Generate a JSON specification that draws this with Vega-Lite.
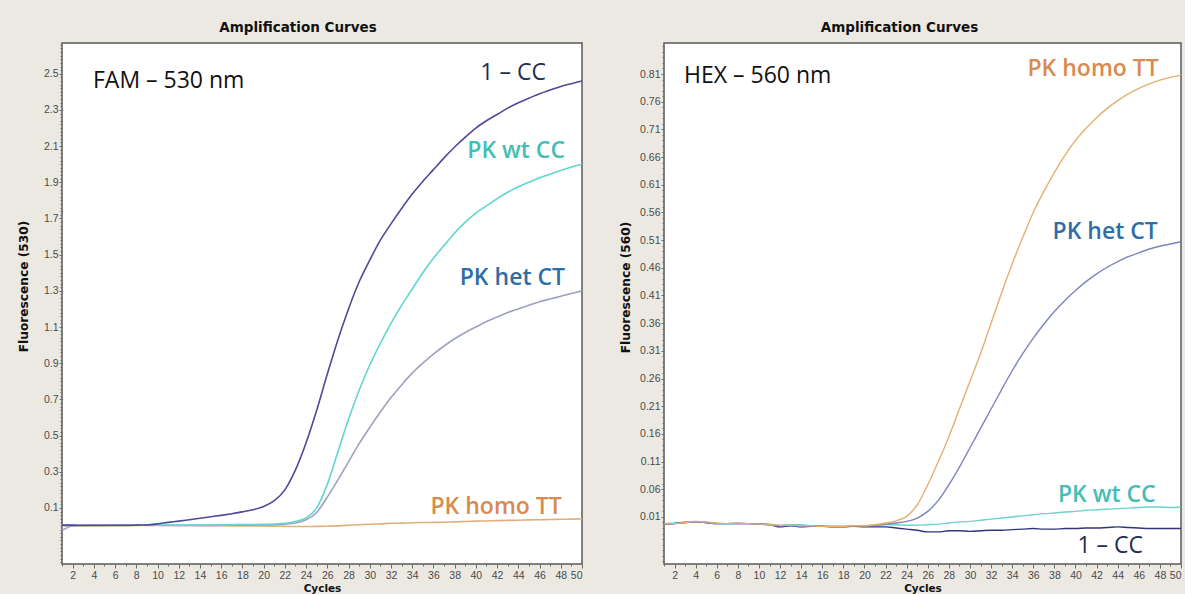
{
  "$schema": "https://vega.github.io/schema/vega-lite/v6.json",
  "background": "#ECE9E2",
  "padding": {"left": 16, "top": 19, "right": 0, "bottom": 0},
  "config": {
    "view": {"stroke": "#5a5a5a", "strokeWidth": 1.5, "fill": "#ffffff"},
    "axis": {"grid": false, "domain": false, "labelFont": "Liberation Sans", "labelFontSize": 10.5, "labelColor": "#4a4a4a", "tickColor": "#6a6a6a", "titleFont": "DejaVu Sans", "titleFontWeight": "bold", "titleFontSize": 10.5, "titleColor": "#111111"},
    "title": {"font": "DejaVu Sans", "fontSize": 13.5, "fontWeight": "bold", "color": "#111111", "anchor": "middle", "offset": 9}
  },
  "datasets": {
    "fam": [
      {"cycle": 1, "CC": 0.005, "wt": 0.003, "het": -0.025, "homo": 0.0},
      {"cycle": 2, "CC": 0.005, "wt": 0.004, "het": 0.0, "homo": 0.0},
      {"cycle": 3, "CC": 0.004, "wt": 0.004, "het": 0.002, "homo": 0.001},
      {"cycle": 4, "CC": 0.004, "wt": 0.004, "het": 0.003, "homo": 0.001},
      {"cycle": 5, "CC": 0.004, "wt": 0.004, "het": 0.003, "homo": 0.001},
      {"cycle": 6, "CC": 0.004, "wt": 0.004, "het": 0.003, "homo": 0.002},
      {"cycle": 7, "CC": 0.004, "wt": 0.005, "het": 0.003, "homo": 0.002},
      {"cycle": 8, "CC": 0.005, "wt": 0.006, "het": 0.004, "homo": 0.003},
      {"cycle": 9, "CC": 0.006, "wt": 0.006, "het": 0.004, "homo": 0.003},
      {"cycle": 10, "CC": 0.012, "wt": 0.005, "het": 0.004, "homo": 0.003},
      {"cycle": 11, "CC": 0.02, "wt": 0.005, "het": 0.003, "homo": 0.003},
      {"cycle": 12, "CC": 0.027, "wt": 0.005, "het": 0.003, "homo": 0.003},
      {"cycle": 13, "CC": 0.035, "wt": 0.005, "het": 0.003, "homo": 0.003},
      {"cycle": 14, "CC": 0.043, "wt": 0.005, "het": 0.003, "homo": 0.002},
      {"cycle": 15, "CC": 0.051, "wt": 0.006, "het": 0.003, "homo": 0.002},
      {"cycle": 16, "CC": 0.059, "wt": 0.006, "het": 0.004, "homo": 0.002},
      {"cycle": 17, "CC": 0.068, "wt": 0.007, "het": 0.004, "homo": 0.001},
      {"cycle": 18, "CC": 0.078, "wt": 0.008, "het": 0.004, "homo": 0.001},
      {"cycle": 19, "CC": 0.09, "wt": 0.008, "het": 0.005, "homo": 0.0},
      {"cycle": 20, "CC": 0.108, "wt": 0.009, "het": 0.006, "homo": 0.0},
      {"cycle": 21, "CC": 0.14, "wt": 0.011, "het": 0.007, "homo": -0.001},
      {"cycle": 22, "CC": 0.2, "wt": 0.015, "het": 0.01, "homo": -0.002},
      {"cycle": 23, "CC": 0.31, "wt": 0.025, "het": 0.017, "homo": -0.003},
      {"cycle": 24, "CC": 0.46, "wt": 0.045, "het": 0.035, "homo": -0.003},
      {"cycle": 25, "CC": 0.64, "wt": 0.1, "het": 0.075, "homo": -0.002},
      {"cycle": 26, "CC": 0.84, "wt": 0.23, "het": 0.16, "homo": -0.001},
      {"cycle": 27, "CC": 1.03, "wt": 0.41, "het": 0.255, "homo": 0.001},
      {"cycle": 28, "CC": 1.2, "wt": 0.59, "het": 0.355, "homo": 0.004},
      {"cycle": 29, "CC": 1.35, "wt": 0.75, "het": 0.455, "homo": 0.007},
      {"cycle": 30, "CC": 1.47, "wt": 0.89, "het": 0.545, "homo": 0.01},
      {"cycle": 31, "CC": 1.58, "wt": 1.01, "het": 0.63, "homo": 0.012},
      {"cycle": 32, "CC": 1.67, "wt": 1.12, "het": 0.71, "homo": 0.015},
      {"cycle": 33, "CC": 1.755, "wt": 1.22, "het": 0.78, "homo": 0.016},
      {"cycle": 34, "CC": 1.835, "wt": 1.31, "het": 0.845, "homo": 0.018},
      {"cycle": 35, "CC": 1.905, "wt": 1.4, "het": 0.9, "homo": 0.019},
      {"cycle": 36, "CC": 1.97, "wt": 1.48, "het": 0.95, "homo": 0.02},
      {"cycle": 37, "CC": 2.035, "wt": 1.55, "het": 0.995, "homo": 0.021},
      {"cycle": 38, "CC": 2.095, "wt": 1.62, "het": 1.035, "homo": 0.023},
      {"cycle": 39, "CC": 2.15, "wt": 1.68, "het": 1.07, "homo": 0.025},
      {"cycle": 40, "CC": 2.2, "wt": 1.73, "het": 1.1, "homo": 0.027},
      {"cycle": 41, "CC": 2.24, "wt": 1.77, "het": 1.13, "homo": 0.028},
      {"cycle": 42, "CC": 2.275, "wt": 1.81, "het": 1.155, "homo": 0.03},
      {"cycle": 43, "CC": 2.31, "wt": 1.845, "het": 1.18, "homo": 0.031},
      {"cycle": 44, "CC": 2.34, "wt": 1.875, "het": 1.2, "homo": 0.032},
      {"cycle": 45, "CC": 2.365, "wt": 1.9, "het": 1.22, "homo": 0.034},
      {"cycle": 46, "CC": 2.39, "wt": 1.925, "het": 1.24, "homo": 0.035},
      {"cycle": 47, "CC": 2.41, "wt": 1.945, "het": 1.255, "homo": 0.036},
      {"cycle": 48, "CC": 2.43, "wt": 1.965, "het": 1.27, "homo": 0.037},
      {"cycle": 49, "CC": 2.445, "wt": 1.985, "het": 1.285, "homo": 0.038},
      {"cycle": 50, "CC": 2.46, "wt": 2.0, "het": 1.3, "homo": 0.04}
    ],
    "hex": [
      {"cycle": 1, "CC": -0.003, "wt": -0.002, "het": -0.003, "homo": -0.002},
      {"cycle": 2, "CC": -0.002, "wt": -0.001, "het": -0.002, "homo": -0.002},
      {"cycle": 3, "CC": 0.0, "wt": 0.001, "het": 0.0, "homo": 0.0},
      {"cycle": 4, "CC": 0.001, "wt": 0.002, "het": 0.001, "homo": 0.002},
      {"cycle": 5, "CC": 0.0, "wt": 0.0, "het": 0.0, "homo": 0.001},
      {"cycle": 6, "CC": -0.002, "wt": -0.002, "het": -0.002, "homo": -0.001},
      {"cycle": 7, "CC": -0.002, "wt": -0.002, "het": -0.002, "homo": -0.002},
      {"cycle": 8, "CC": -0.002, "wt": -0.001, "het": -0.002, "homo": -0.001},
      {"cycle": 9, "CC": -0.002, "wt": -0.002, "het": -0.002, "homo": -0.002},
      {"cycle": 10, "CC": -0.003, "wt": -0.003, "het": -0.003, "homo": -0.003},
      {"cycle": 11, "CC": -0.004, "wt": -0.003, "het": -0.004, "homo": -0.004},
      {"cycle": 12, "CC": -0.008, "wt": -0.005, "het": -0.006, "homo": -0.005},
      {"cycle": 13, "CC": -0.006, "wt": -0.004, "het": -0.005, "homo": -0.005},
      {"cycle": 14, "CC": -0.008, "wt": -0.004, "het": -0.006, "homo": -0.006},
      {"cycle": 15, "CC": -0.007, "wt": -0.006, "het": -0.006, "homo": -0.006},
      {"cycle": 16, "CC": -0.007, "wt": -0.006, "het": -0.007, "homo": -0.007},
      {"cycle": 17, "CC": -0.008, "wt": -0.007, "het": -0.007, "homo": -0.007},
      {"cycle": 18, "CC": -0.008, "wt": -0.007, "het": -0.007, "homo": -0.007},
      {"cycle": 19, "CC": -0.007, "wt": -0.006, "het": -0.006, "homo": -0.006},
      {"cycle": 20, "CC": -0.008, "wt": -0.006, "het": -0.006, "homo": -0.006},
      {"cycle": 21, "CC": -0.008, "wt": -0.005, "het": -0.005, "homo": -0.004},
      {"cycle": 22, "CC": -0.008, "wt": -0.004, "het": -0.003, "homo": -0.001},
      {"cycle": 23, "CC": -0.01, "wt": -0.004, "het": -0.001, "homo": 0.003},
      {"cycle": 24, "CC": -0.012, "wt": -0.005, "het": 0.002, "homo": 0.011},
      {"cycle": 25, "CC": -0.014, "wt": -0.005, "het": 0.008, "homo": 0.032},
      {"cycle": 26, "CC": -0.017, "wt": -0.004, "het": 0.02, "homo": 0.068},
      {"cycle": 27, "CC": -0.017, "wt": -0.003, "het": 0.04, "homo": 0.11},
      {"cycle": 28, "CC": -0.015, "wt": -0.001, "het": 0.068, "homo": 0.155},
      {"cycle": 29, "CC": -0.015, "wt": 0.001, "het": 0.1, "homo": 0.205},
      {"cycle": 30, "CC": -0.016, "wt": 0.002, "het": 0.135, "homo": 0.255},
      {"cycle": 31, "CC": -0.015, "wt": 0.004, "het": 0.17, "homo": 0.305},
      {"cycle": 32, "CC": -0.014, "wt": 0.006, "het": 0.205, "homo": 0.36},
      {"cycle": 33, "CC": -0.014, "wt": 0.008, "het": 0.24, "homo": 0.415},
      {"cycle": 34, "CC": -0.013, "wt": 0.01, "het": 0.274, "homo": 0.467},
      {"cycle": 35, "CC": -0.012, "wt": 0.012, "het": 0.305, "homo": 0.515},
      {"cycle": 36, "CC": -0.011, "wt": 0.014, "het": 0.333, "homo": 0.56},
      {"cycle": 37, "CC": -0.012, "wt": 0.016, "het": 0.358, "homo": 0.598},
      {"cycle": 38, "CC": -0.012, "wt": 0.017, "het": 0.381, "homo": 0.632},
      {"cycle": 39, "CC": -0.011, "wt": 0.019, "het": 0.401, "homo": 0.663},
      {"cycle": 40, "CC": -0.011, "wt": 0.02, "het": 0.419, "homo": 0.69},
      {"cycle": 41, "CC": -0.01, "wt": 0.022, "het": 0.435, "homo": 0.712},
      {"cycle": 42, "CC": -0.01, "wt": 0.023, "het": 0.449, "homo": 0.731},
      {"cycle": 43, "CC": -0.009, "wt": 0.024, "het": 0.461, "homo": 0.748},
      {"cycle": 44, "CC": -0.008, "wt": 0.025, "het": 0.471, "homo": 0.762},
      {"cycle": 45, "CC": -0.009, "wt": 0.026, "het": 0.48, "homo": 0.774},
      {"cycle": 46, "CC": -0.01, "wt": 0.027, "het": 0.487, "homo": 0.784},
      {"cycle": 47, "CC": -0.011, "wt": 0.028, "het": 0.494, "homo": 0.792},
      {"cycle": 48, "CC": -0.011, "wt": 0.028, "het": 0.499, "homo": 0.799},
      {"cycle": 49, "CC": -0.011, "wt": 0.027, "het": 0.503, "homo": 0.804},
      {"cycle": 50, "CC": -0.011, "wt": 0.028, "het": 0.507, "homo": 0.808}
    ]
  },
  "spacing": 32,
  "resolve": {"scale": {"color": "independent"}},
  "hconcat": [
    {
      "width": 520,
      "height": 521,
      "title": {"text": "Amplification Curves", "dx": -24},
      "resolve": {"axis": {"x": "independent", "y": "independent"}},
      "layer": [
        {
          "data": {"name": "fam"},
          "transform": [{"fold": ["homo", "het", "wt", "CC"], "as": ["sample", "fluor"]}],
          "mark": {"type": "line", "strokeWidth": 1.6, "interpolate": "monotone"},
          "encoding": {
            "x": {"field": "cycle", "type": "quantitative", "scale": {"domain": [1, 50], "nice": false, "zero": false},
              "axis": {"values": [2,4,6,8,10,12,14,16,18,20,22,24,26,28,30,32,34,36,38,40,42,44,46,48,50], "title": "Cycles", "tickSize": 4, "labelPadding": 2, "titlePadding": 3}},
            "y": {"field": "fluor", "type": "quantitative", "scale": {"domain": [-0.21, 2.67], "nice": false, "zero": false},
              "axis": {"values": [0.1,0.3,0.5,0.7,0.9,1.1,1.3,1.5,1.7,1.9,2.1,2.3,2.5], "format": ".1f", "title": "Fluorescence (530)", "titleFontSize": 12.2, "tickSize": 3, "labelPadding": 1, "titleX": -39, "titleY": 243, "titleBaseline": "middle", "titleAlign": "center"}},
            "color": {"field": "sample", "type": "nominal", "scale": {"domain": ["CC", "wt", "het", "homo"], "range": ["#52479A", "#62D5D0", "#9DA1C0", "#E0B07C"]}, "legend": null}
          }
        },
        {
          "data": {"values": [{}]},
          "mark": {"type": "text", "font": "Open Sans", "fontSize": 23, "align": "left", "baseline": "middle", "color": "#111111"},
          "encoding": {
            "x": {"datum": 3.92, "type": "quantitative", "axis": {"orient": "bottom", "values": [1,2,3,4,5,6,7,8,9,10,11,12,13,14,15,16,17,18,19,20,21,22,23,24,25,26,27,28,29,30,31,32,33,34,35,36,37,38,39,40,41,42,43,44,45,46,47,48,49,50], "labels": false, "title": null, "tickSize": 2}},
            "y": {"datum": 2.46, "type": "quantitative", "axis": {"orient": "left", "values": [-0.2,-0.18,-0.16,-0.14,-0.12,-0.1,-0.08,-0.06,-0.04,-0.02,0,0.02,0.04,0.06,0.08,0.1,0.12,0.14,0.16,0.18,0.2,0.22,0.24,0.26,0.28,0.3,0.32,0.34,0.36,0.38,0.4,0.42,0.44,0.46,0.48,0.5,0.52,0.54,0.56,0.58,0.6,0.62,0.64,0.66,0.68,0.7,0.72,0.74,0.76,0.78,0.8,0.82,0.84,0.86,0.88,0.9,0.92,0.94,0.96,0.98,1,1.02,1.04,1.06,1.08,1.1,1.12,1.14,1.16,1.18,1.2,1.22,1.24,1.26,1.28,1.3,1.32,1.34,1.36,1.38,1.4,1.42,1.44,1.46,1.48,1.5,1.52,1.54,1.56,1.58,1.6,1.62,1.64,1.66,1.68,1.7,1.72,1.74,1.76,1.78,1.8,1.82,1.84,1.86,1.88,1.9,1.92,1.94,1.96,1.98,2,2.02,2.04,2.06,2.08,2.1,2.12,2.14,2.16,2.18,2.2,2.22,2.24,2.26,2.28,2.3,2.32,2.34,2.36,2.38,2.4,2.42,2.44,2.46,2.48,2.5,2.52,2.54,2.56,2.58,2.6,2.62,2.64,2.66], "labels": false, "title": null, "tickSize": 2}},
            "text": {"value": "FAM – 530 nm"}
          }
        },
        {
          "data": {"values": [{}]},
          "mark": {"type": "text", "font": "Open Sans", "fontSize": 23, "align": "right", "baseline": "middle", "color": "#1E2D55"},
          "encoding": {"x": {"datum": 46.6, "type": "quantitative", "axis": null}, "y": {"datum": 2.506, "type": "quantitative", "axis": null}, "text": {"value": "1 – CC"}}
        },
        {
          "data": {"values": [{}]},
          "mark": {"type": "text", "font": "Open Sans", "fontSize": 23, "fontWeight": 600, "align": "right", "baseline": "middle", "color": "#45BDB5"},
          "encoding": {"x": {"datum": 48.4, "type": "quantitative", "axis": null}, "y": {"datum": 2.074, "type": "quantitative", "axis": null}, "text": {"value": "PK wt CC"}}
        },
        {
          "data": {"values": [{}]},
          "mark": {"type": "text", "font": "Open Sans", "fontSize": 23, "fontWeight": 600, "align": "right", "baseline": "middle", "color": "#2F6EA5"},
          "encoding": {"x": {"datum": 48.4, "type": "quantitative", "axis": null}, "y": {"datum": 1.372, "type": "quantitative", "axis": null}, "text": {"value": "PK het CT"}}
        },
        {
          "data": {"values": [{}]},
          "mark": {"type": "text", "font": "Open Sans", "fontSize": 23, "fontWeight": 600, "align": "right", "baseline": "middle", "color": "#D98A4E"},
          "encoding": {"x": {"datum": 48.1, "type": "quantitative", "axis": null}, "y": {"datum": 0.105, "type": "quantitative", "axis": null}, "text": {"value": "PK homo TT"}}
        }
      ]
    },
    {
      "width": 517,
      "height": 521,
      "title": {"text": "Amplification Curves", "dx": -23},
      "resolve": {"axis": {"x": "independent", "y": "independent"}},
      "layer": [
        {
          "data": {"name": "hex"},
          "transform": [{"fold": ["wt", "CC", "het", "homo"], "as": ["sample", "fluor"]}],
          "mark": {"type": "line", "strokeWidth": 1.4, "interpolate": "monotone"},
          "encoding": {
            "x": {"field": "cycle", "type": "quantitative", "scale": {"domain": [1, 50], "nice": false, "zero": false},
              "axis": {"values": [2,4,6,8,10,12,14,16,18,20,22,24,26,28,30,32,34,36,38,40,42,44,46,48,50], "title": "Cycles", "tickSize": 4, "labelPadding": 2, "titlePadding": 3}},
            "y": {"field": "fluor", "type": "quantitative", "scale": {"domain": [-0.075, 0.866], "nice": false, "zero": false},
              "axis": {"values": [0.01,0.06,0.11,0.16,0.21,0.26,0.31,0.36,0.41,0.46,0.51,0.56,0.61,0.66,0.71,0.76,0.81], "format": ".2f", "title": "Fluorescence (560)", "titleFontSize": 12.2, "tickSize": 3, "labelPadding": 1, "titleX": -39, "titleY": 244, "titleBaseline": "middle", "titleAlign": "center"}},
            "color": {"field": "sample", "type": "nominal", "scale": {"domain": ["CC", "wt", "het", "homo"], "range": ["#34347A", "#6AD4D0", "#7D84BD", "#E3B06F"]}, "legend": null}
          }
        },
        {
          "data": {"values": [{}]},
          "mark": {"type": "text", "font": "Open Sans", "fontSize": 23, "align": "left", "baseline": "middle", "color": "#111111"},
          "encoding": {
            "x": {"datum": 2.9, "type": "quantitative", "axis": {"orient": "bottom", "values": [1,2,3,4,5,6,7,8,9,10,11,12,13,14,15,16,17,18,19,20,21,22,23,24,25,26,27,28,29,30,31,32,33,34,35,36,37,38,39,40,41,42,43,44,45,46,47,48,49,50], "labels": false, "title": null, "tickSize": 2}},
            "y": {"datum": 0.806, "type": "quantitative", "axis": {"orient": "left", "values": [-0.07,-0.06,-0.05,-0.04,-0.03,-0.02,-0.01,0,0.01,0.02,0.03,0.04,0.05,0.06,0.07,0.08,0.09,0.1,0.11,0.12,0.13,0.14,0.15,0.16,0.17,0.18,0.19,0.2,0.21,0.22,0.23,0.24,0.25,0.26,0.27,0.28,0.29,0.3,0.31,0.32,0.33,0.34,0.35,0.36,0.37,0.38,0.39,0.4,0.41,0.42,0.43,0.44,0.45,0.46,0.47,0.48,0.49,0.5,0.51,0.52,0.53,0.54,0.55,0.56,0.57,0.58,0.59,0.6,0.61,0.62,0.63,0.64,0.65,0.66,0.67,0.68,0.69,0.7,0.71,0.72,0.73,0.74,0.75,0.76,0.77,0.78,0.79,0.8,0.81,0.82,0.83,0.84,0.85,0.86], "labels": false, "title": null, "tickSize": 2}},
            "text": {"value": "HEX – 560 nm"}
          }
        },
        {
          "data": {"values": [{}]},
          "mark": {"type": "text", "font": "Open Sans", "fontSize": 23, "fontWeight": 600, "align": "right", "baseline": "middle", "color": "#D98A4E"},
          "encoding": {"x": {"datum": 47.9, "type": "quantitative", "axis": null}, "y": {"datum": 0.819, "type": "quantitative", "axis": null}, "text": {"value": "PK homo TT"}}
        },
        {
          "data": {"values": [{}]},
          "mark": {"type": "text", "font": "Open Sans", "fontSize": 23, "fontWeight": 600, "align": "right", "baseline": "middle", "color": "#2F6EA5"},
          "encoding": {"x": {"datum": 47.8, "type": "quantitative", "axis": null}, "y": {"datum": 0.524, "type": "quantitative", "axis": null}, "text": {"value": "PK het CT"}}
        },
        {
          "data": {"values": [{}]},
          "mark": {"type": "text", "font": "Open Sans", "fontSize": 23, "fontWeight": 600, "align": "right", "baseline": "middle", "color": "#45BDB5"},
          "encoding": {"x": {"datum": 47.6, "type": "quantitative", "axis": null}, "y": {"datum": 0.05, "type": "quantitative", "axis": null}, "text": {"value": "PK wt CC"}}
        },
        {
          "data": {"values": [{}]},
          "mark": {"type": "text", "font": "Open Sans", "fontSize": 23, "align": "right", "baseline": "middle", "color": "#1E2D55"},
          "encoding": {"x": {"datum": 46.4, "type": "quantitative", "axis": null}, "y": {"datum": -0.042, "type": "quantitative", "axis": null}, "text": {"value": "1 – CC"}}
        }
      ]
    }
  ]
}
